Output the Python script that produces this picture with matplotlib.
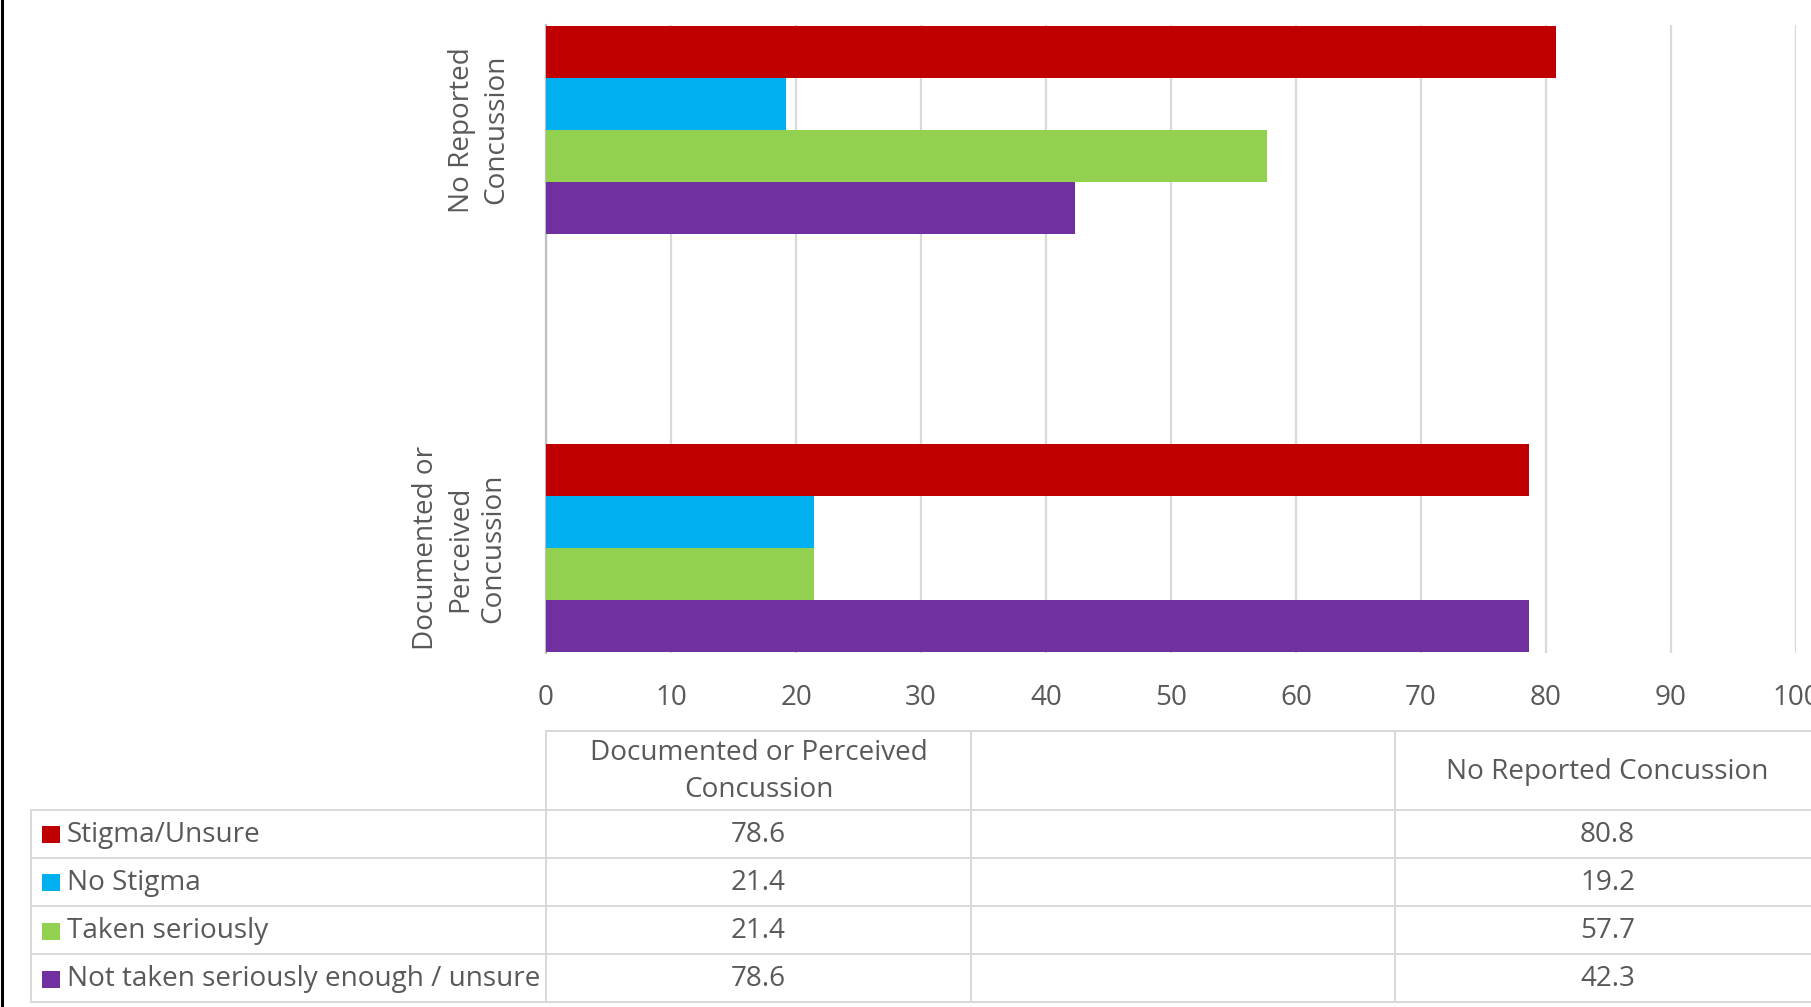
import matplotlib
matplotlib.use("Agg")
import matplotlib.pyplot as plt
from matplotlib.lines import Line2D
from matplotlib.patches import Rectangle

# ---- data ----
categories = ["Documented or Perceived Concussion", "", "No Reported Concussion"]
cat_axis_labels = ["Documented or\nPerceived\nConcussion", "", "No Reported\nConcussion"]
series_names = ["Stigma/Unsure", "No Stigma", "Taken seriously",
                "Not taken seriously enough / unsure"]
stigma_unsure = [78.6, None, 80.8]
no_stigma = [21.4, None, 19.2]
taken_seriously = [21.4, None, 57.7]
not_taken_seriously = [78.6, None, 42.3]
x_ticks = [0, 10, 20, 30, 40, 50, 60, 70, 80, 90, 100]

series_values = [stigma_unsure, no_stigma, taken_seriously, not_taken_seriously]
colors = ["#C00000", "#00B0F0", "#92D050", "#7030A0"]
TXT = "#595959"
GRID = "#d9d9d9"
FONT = "Open Sans"
FS = 20.1

W, H = 1811, 1007
fig = plt.figure(figsize=(W / 100, H / 100), dpi=100)
fig.patch.set_facecolor("white")

def fx(px):
    return px / W

def fy(py):
    return 1 - py / H

# ---- plot area ----
ax_left, ax_right, ax_top, ax_bottom = 546, 1796, 25, 653
ax = fig.add_axes([fx(ax_left), fy(ax_bottom), fx(ax_right - ax_left),
                   (ax_bottom - ax_top) / H])
ax.set_xlim(0, 100)
ax.set_ylim(-0.5, len(categories) - 0.5)

h = 0.993 / 4
offsets = [1.5 * h, 0.5 * h, -0.5 * h, -1.5 * h]
for vals, col, off in zip(series_values, colors, offsets):
    ys, ws = [], []
    for i, v in enumerate(vals):
        if v is not None:
            ys.append(i + off)
            ws.append(v)
    ax.barh(ys, ws, height=h, color=col, zorder=3, linewidth=0)

ax.set_xticks(x_ticks)
ax.xaxis.grid(True, color=GRID, linewidth=1.6, zorder=0)
ax.set_axisbelow(True)
for s in ["top", "right", "bottom"]:
    ax.spines[s].set_visible(False)
ax.spines["left"].set_color("#bfbfbf")
ax.spines["left"].set_linewidth(1.6)
ax.set_yticks([])
ax.tick_params(axis="x", length=0, pad=22, labelsize=FS, labelcolor=TXT)
for lbl in ax.get_xticklabels():
    lbl.set_fontfamily(FONT)
    lbl.set_clip_on(False)

# category labels (rotated)
cat_label_x = {0: 460, 2: 479}
for i, lab in enumerate(cat_axis_labels):
    if not lab:
        continue
    yc = ax_bottom - (i + 0.5) * (ax_bottom - ax_top) / len(categories)
    fig.text(fx(cat_label_x[i]), fy(yc), lab, rotation=90, ha="center",
             va="center", multialignment="center", fontsize=FS, color=TXT,
             family=FONT, linespacing=1.27)

# ---- data table ----
col_x = [546, 971, 1395, 1820]
row_y = [731, 810, 857.5, 906, 954, 1002]
label_left = 31
lw_t = 2.0

def hline(y, x0, x1):
    fig.add_artist(Line2D([fx(x0), fx(x1)], [fy(y), fy(y)], color=GRID,
                          linewidth=lw_t * 0.72, transform=fig.transFigure))

def vline(x, y0, y1):
    fig.add_artist(Line2D([fx(x), fx(x)], [fy(y0), fy(y1)], color=GRID,
                          linewidth=lw_t * 0.72, transform=fig.transFigure))

hline(row_y[0], col_x[0], W)
for y in row_y[1:]:
    hline(y, label_left, W)
vline(label_left, row_y[1], row_y[-1])
for x in col_x[:3]:
    vline(x, row_y[0], row_y[-1])

# header
header_labels = ["Documented or Perceived\nConcussion", "", "No Reported Concussion"]
for j, lab in enumerate(header_labels):
    if lab:
        xc = (col_x[j] + col_x[j + 1]) / 2
        yc = (row_y[0] + row_y[1]) / 2 + 1
        fig.text(fx(xc), fy(yc), lab, ha="center", va="center",
                 multialignment="center", fontsize=FS, color=TXT, family=FONT,
                 linespacing=1.45)

# rows
for r, (name, vals, col) in enumerate(zip(series_names, series_values, colors)):
    y0, y1 = row_y[r + 1], row_y[r + 2]
    yc = (y0 + y1) / 2 + 1
    fig.add_artist(Rectangle((fx(42), fy(yc + 8.5)), fx(18), 17 / H,
                             color=col, transform=fig.transFigure, linewidth=0))
    fig.text(fx(67), fy(yc), name, ha="left", va="center", fontsize=FS,
             color=TXT, family=FONT)
    for j, v in enumerate(vals):
        if v is not None:
            xc = (col_x[j] + col_x[j + 1]) / 2
            fig.text(fx(xc), fy(yc), f"{v:.1f}", ha="center", va="center",
                     fontsize=FS, color=TXT, family=FONT)

# left border line of the picture
fig.add_artist(Line2D([fx(1.5), fx(1.5)], [0, 1], color="black",
                      linewidth=2.2, transform=fig.transFigure))

fig.savefig("out.png", dpi=100, facecolor="white")
